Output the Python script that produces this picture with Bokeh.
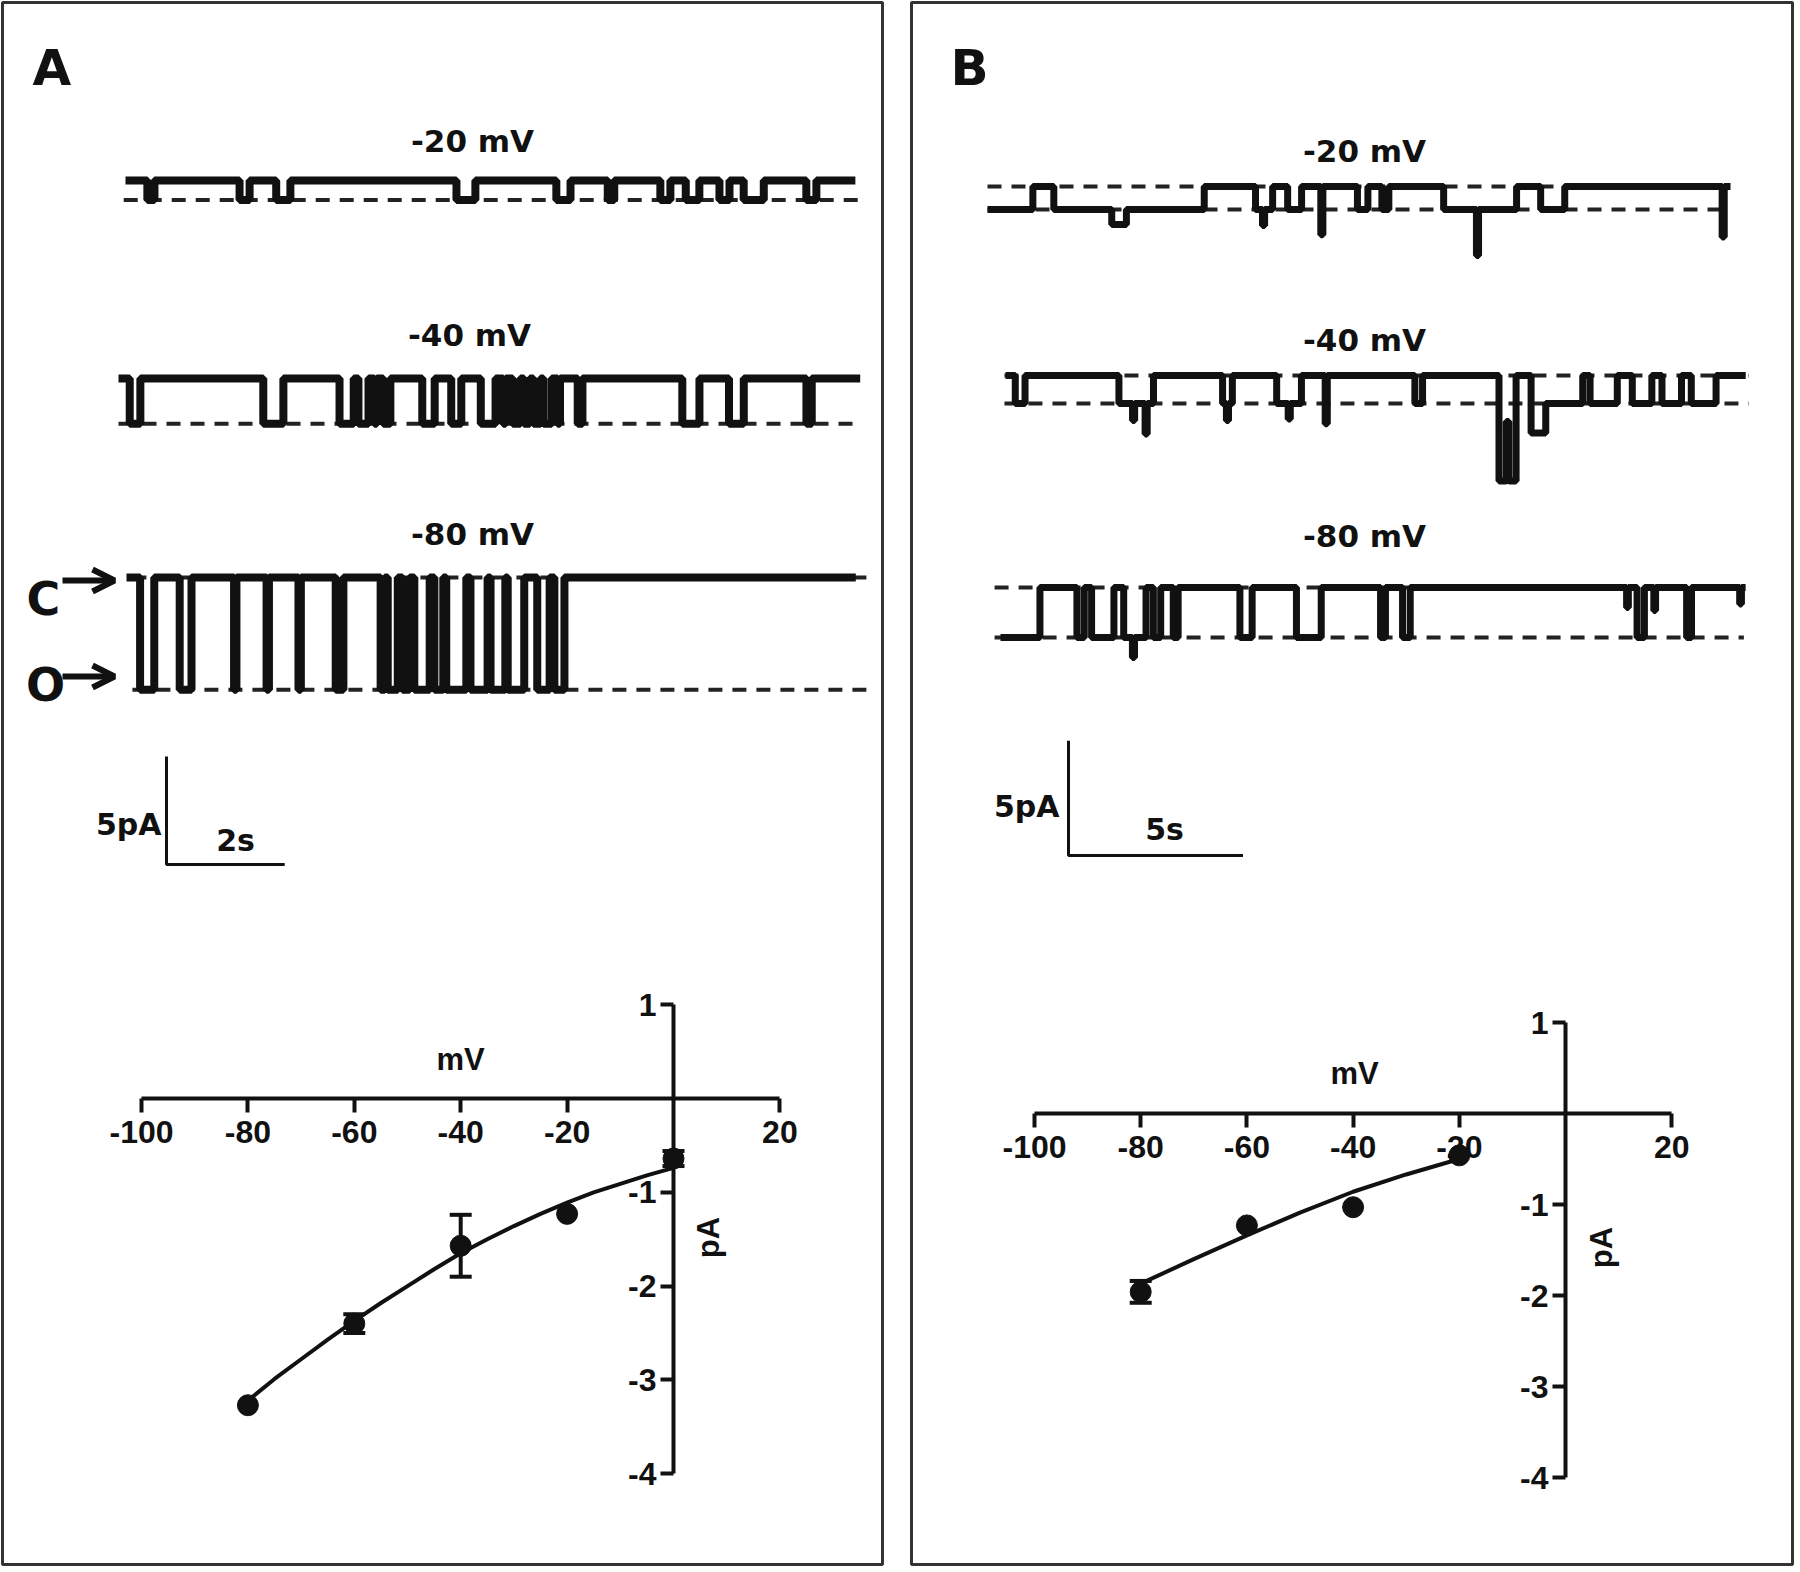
import math
from bokeh.plotting import figure
from bokeh.layouts import row
from bokeh.models import (Range1d, LinearAxis, FixedTicker, Label, Arrow, OpenHead,
                          Whisker, TeeHead, ColumnDataSource)
from bokeh.embed import file_html
from bokeh.resources import INLINE

# ====================== DATA ======================
# Single-channel traces: step functions, segment boundaries (s) and current level (pA,
# relative to the closed level) of each segment.
# ---- Panel A ----
a20_t = [0, 0.37, 0.49, 1.93, 2.10, 2.55, 2.79, 5.60, 5.92, 7.29, 7.53, 8.16, 8.27,
         9.05, 9.22, 9.48, 9.71, 10.05, 10.22, 10.46, 10.80, 11.52, 11.69, 12.35]
a20_i = [0, -0.9, 0, -0.9, 0, -0.9, 0, -0.9, 0, -0.9, 0, -0.9, 0,
         -0.9, 0, -0.9, 0, -0.9, 0, -0.9, 0, -0.9, 0]
a20_levels = [-0.9]

a40_t = [0, 0.19, 0.37, 2.45, 2.79, 3.74, 3.98, 4.06, 4.23, 4.33, 4.37, 4.48, 4.60,
         5.14, 5.35, 5.63, 5.80, 6.13, 6.38, 6.51, 6.55, 6.67, 6.80, 6.86, 6.96,
         7.02, 7.14, 7.19, 7.33, 7.43, 7.47, 7.77, 7.85, 9.54, 9.83, 10.33, 10.58,
         11.64, 11.73, 12.55]
a40_i = [0, -2.1, 0, -2.1, 0, -2.1, 0, -2.1, 0, -2.1, 0, -2.1, 0,
         -2.1, 0, -2.1, 0, -2.1, 0, -2.1, 0, -2.1, 0, -2.1, 0,
         -2.1, 0, -2.1, 0, -2.1, 0, -2.1, 0, -2.1, 0, -2.1, 0,
         -2.1, 0]
a40_levels = [-2.1]

a80_t = [0, 0.23, 0.47, 0.90, 1.10, 1.82, 1.86, 2.37, 2.41, 2.91, 2.95, 3.54, 3.67,
         4.30, 4.37, 4.42, 4.59, 4.67, 4.79, 4.87, 5.13, 5.21, 5.36, 5.41, 5.75,
         5.82, 6.11, 6.16, 6.41, 6.45, 6.73, 6.95, 7.16, 7.24, 7.41, 12.34]
a80_i = [0, -5.2, 0, -5.2, 0, -5.2, 0, -5.2, 0, -5.2, 0, -5.2, 0,
         -5.2, 0, -5.2, 0, -5.2, 0, -5.2, 0, -5.2, 0, -5.2, 0,
         -5.2, 0, -5.2, 0, -5.2, 0, -5.2, 0, -5.2, 0]
a80_levels = [0, -5.2]

# ---- Panel B ----
b20_t = [0, 1.30, 1.90, 3.56, 3.98, 6.21, 7.68, 7.88, 7.94, 8.17, 8.60, 9.00, 9.55,
         9.61, 10.60, 10.90, 11.30, 11.50, 13.07, 14.01, 14.07, 15.16, 15.85, 16.54,
         21.05, 21.11, 21.29]
b20_i = [-1.0, 0, -1.0, -1.65, -1.0, 0, -1.0, -1.7, -1.0, 0, -1.0, 0, -2.1,
         0, -1.0, 0, -1.0, 0, -1.0, -3.0, -1.0, 0, -1.0, 0, -2.2, 0]
b20_levels = [0, -1.0]

b40_t = [0, 0.28, 0.56, 3.25, 3.64, 3.70, 4.00, 4.06, 4.24, 6.22, 6.33, 6.39, 6.50,
         7.77, 8.10, 8.16, 8.48, 9.16, 9.22, 11.73, 11.95, 14.14, 14.35, 14.42,
         14.63, 15.06, 15.48, 16.54, 16.75, 17.53, 17.96, 18.52, 18.81, 19.37,
         19.65, 20.36, 21.21]
b40_i = [0, -1.22, 0, -1.22, -1.96, -1.22, -2.55, -1.22, 0, -1.22, -1.96, -1.22, 0,
         -1.22, -1.9, -1.22, 0, -2.1, 0, -1.22, 0, -4.6, -2.0, -4.6,
         0, -2.5, -1.22, 0, -1.22, 0, -1.22, 0, -1.22, 0, -1.22, 0]
b40_levels = [0, -1.22]

b80_t = [0, 1.13, 2.19, 2.40, 2.61, 3.25, 3.53, 3.78, 3.84, 4.17, 4.38, 4.59, 4.95,
         5.09, 6.86, 7.21, 8.48, 9.19, 10.89, 11.03, 11.52, 11.74, 17.94, 17.99,
         18.24, 18.45, 18.72, 18.77, 19.66, 19.80, 21.18, 21.23, 21.35]
b80_i = [-2.18, 0, -2.18, 0, -2.18, 0, -2.18, -3.05, -2.18, 0, -2.18, 0, -2.18,
         0, -2.18, 0, -2.18, 0, -2.18, 0, -2.18, 0, -0.87, 0,
         -2.18, 0, -1.0, 0, -2.18, 0, -0.72, 0]
b80_levels = [0, -2.18]

trace_labels = ["-20 mV", "-40 mV", "-80 mV"]

# Scale bars (time s, current pA)
sbA = (2, 5)
sbB = (5, 5)
sbA_text = ("5pA", "2s")
sbB_text = ("5pA", "5s")

# I-V relations
ivA_mv = [-80, -60, -40, -20, 0]
ivA_pa = [-3.27, -2.40, -1.57, -1.23, -0.64]
ivA_err = [0.0, 0.10, 0.33, 0.0, 0.08]
fitA_mv = [-80, -75, -70, -65, -60, -55, -50, -45, -40, -35, -30, -25, -20, -15, -10, -5, 0]
fitA_pa = [-3.22, -2.99, -2.78, -2.57, -2.37, -2.18, -2.00, -1.82, -1.65, -1.50,
           -1.36, -1.23, -1.11, -1.00, -0.91, -0.82, -0.74]

ivB_mv = [-80, -60, -40, -20]
ivB_pa = [-1.96, -1.23, -1.03, -0.46]
ivB_err = [0.12, 0.0, 0.0, 0.0]
fitB_mv = [-80, -70, -60, -50, -40, -30, -20]
fitB_pa = [-1.87, -1.60, -1.34, -1.09, -0.86, -0.67, -0.50]

iv_xticks = [-100, -80, -60, -40, -20, 20]
iv_yticks = [-4, -3, -2, -1, 1]
iv_xbounds = (-100, 20)
iv_ybounds = (-4, 1)

# ====================== LAYOUT / STYLE ======================
H, MB = 1566, 2
INK = "#111111"
LFONT = "DejaVu Sans"
AFONT = "Liberation Sans"


def add_text(p, x, y, text, size, font=LFONT, align="left", baseline="middle", angle=0.0):
    p.add_layout(Label(x=x, y=y, text=text, text_font=font, text_font_size=f"{size}px",
                       text_font_style="bold", text_color=INK, text_align=align,
                       text_baseline=baseline, angle=angle))


def build_panel(cfg):
    W = cfg["width"]

    def xr(px0, scale):
        return Range1d((MB - px0) / scale, (W - MB - px0) / scale)

    def yr(py0, scale):
        return Range1d((py0 - (H - MB)) / scale, (py0 - MB) / scale)

    p = figure(width=W, height=H, output_backend="svg", toolbar_location=None,
               x_range=Range1d(MB, W - MB), y_range=Range1d(H - MB, MB),
               x_axis_type=None, y_axis_type=None, min_border=MB,
               outline_line_color="#333333", outline_line_width=3,
               background_fill_color="white", border_fill_color="white")

    add_text(p, cfg["letter_xy"][0], cfg["letter_xy"][1], cfg["letter"], 50)

    # traces
    for k, tr in enumerate(cfg["traces"]):
        xn, yn = f"t{k}", f"i{k}"
        p.extra_x_ranges[xn] = xr(tr["x0"], cfg["pps"])
        p.extra_y_ranges[yn] = yr(tr["y0"], cfg["ppa"])
        d0, d1 = tr["dash"]
        for lev in tr["levels"]:
            p.line([d0, d1], [lev, lev], x_range_name=xn, y_range_name=yn,
                   line_color="#222222", line_width=4, line_dash="14 10")
        t = tr["t"]
        lv = list(tr["i"]) + [tr["i"][-1]]
        p.step(t, lv, mode="after", x_range_name=xn, y_range_name=yn,
               line_color=INK, line_width=cfg["trace_w"])
        lx, ly = tr["label_xy"]
        add_text(p, lx, ly, tr["label"], 31, align="center")

    # scale bar
    p.extra_x_ranges["sbx"] = xr(cfg["sb_origin"][0], cfg["pps"])
    p.extra_y_ranges["sby"] = yr(cfg["sb_origin"][1], cfg["ppa"])
    st, sa = cfg["sb"]
    p.line([0, 0, st], [sa, 0, 0], x_range_name="sbx", y_range_name="sby",
           line_color=INK, line_width=3)
    add_text(p, cfg["sb_a_xy"][0], cfg["sb_a_xy"][1], cfg["sb_text"][0], 30, align="right")
    add_text(p, cfg["sb_t_xy"][0], cfg["sb_t_xy"][1], cfg["sb_text"][1], 30, align="center")

    # I-V plot
    p.extra_x_ranges["mv"] = xr(cfg["mv0"], cfg["pxmv"])
    p.extra_y_ranges["pa"] = yr(cfg["pa0"], cfg["pxpa"])
    ax = LinearAxis(x_range_name="mv", y_range_name="pa", fixed_location=0,
                    bounds=iv_xbounds, ticker=FixedTicker(ticks=iv_xticks, minor_ticks=[]),
                    major_label_overrides={v: str(v) for v in iv_xticks})
    ay = LinearAxis(x_range_name="mv", y_range_name="pa", fixed_location=0,
                    bounds=iv_ybounds, ticker=FixedTicker(ticks=iv_yticks, minor_ticks=[]),
                    major_label_overrides={v: str(v) for v in iv_yticks})
    for a, tout, stand in ((ax, 14, 8), (ay, 13, 4)):
        a.axis_line_width = 4
        a.axis_line_color = INK
        a.major_tick_line_width = 4
        a.major_tick_line_color = INK
        a.major_tick_out = tout
        a.major_tick_in = 0
        a.minor_tick_out = 0
        a.minor_tick_in = 0
        a.major_label_standoff = stand
        a.major_label_text_font = AFONT
        a.major_label_text_font_style = "bold"
        a.major_label_text_font_size = "32px"
        a.major_label_text_color = INK
    p.add_layout(ax, "below")
    p.add_layout(ay, "left")

    p.line(cfg["fit_mv"], cfg["fit_pa"], x_range_name="mv", y_range_name="pa",
           line_color=INK, line_width=4)
    ex, eu, el = [], [], []
    for x, y, e in zip(cfg["iv_mv"], cfg["iv_pa"], cfg["iv_err"]):
        if e > 0:
            ex.append(x)
            eu.append(y + e)
            el.append(y - e)
    if ex:
        src = ColumnDataSource(dict(x=ex, up=eu, lo=el))
        p.add_layout(Whisker(source=src, base="x", upper="up", lower="lo",
                             x_range_name="mv", y_range_name="pa",
                             line_color=INK, line_width=4,
                             upper_head=TeeHead(size=22, line_width=4, line_color=INK),
                             lower_head=TeeHead(size=22, line_width=4, line_color=INK)))
    p.scatter(cfg["iv_mv"], cfg["iv_pa"], x_range_name="mv", y_range_name="pa",
              marker="circle", size=21, fill_color=INK, line_color=INK)

    add_text(p, cfg["mv_xy"][0], cfg["mv_xy"][1], "mV", 31, font=AFONT, align="center")
    add_text(p, cfg["pa_xy"][0], cfg["pa_xy"][1], "pA", 31, font=AFONT, align="center",
             angle=math.pi / 2)

    for txt, (x, y) in cfg.get("state_text", []):
        add_text(p, x, y, txt, 46, align="center")
    for (x0, x1, y) in cfg.get("arrows", []):
        p.add_layout(Arrow(x_start=x0, y_start=y, x_end=x1, y_end=y,
                           line_color=INK, line_width=6,
                           end=OpenHead(size=22, line_width=6, line_color=INK)))
    return p


cfgA = dict(
    width=884, letter="A", letter_xy=(32, 67), trace_w=8,
    pps=59.1, ppa=21.58,
    traces=[
        dict(t=a20_t, i=a20_i, levels=a20_levels, x0=125, y0=180, dash=(-0.03, 12.45),
             label=trace_labels[0], label_xy=(472, 140)),
        dict(t=a40_t, i=a40_i, levels=a40_levels, x0=118, y0=378, dash=(0.0, 12.54),
             label=trace_labels[1], label_xy=(469, 334)),
        dict(t=a80_t, i=a80_i, levels=a80_levels, x0=126, y0=577, dash=(0.10, 12.64),
             label=trace_labels[2], label_xy=(472, 533)),
    ],
    sb=sbA, sb_origin=(166, 864), sb_text=sbA_text, sb_a_xy=(161, 824), sb_t_xy=(235, 840),
    mv0=673, pxmv=5.32, pa0=1098, pxpa=93.8,
    iv_mv=ivA_mv, iv_pa=ivA_pa, iv_err=ivA_err, fit_mv=fitA_mv, fit_pa=fitA_pa,
    mv_xy=(460, 1059), pa_xy=(708, 1237),
    state_text=[("C", (43, 598)), ("O", (45, 684))],
    arrows=[(62, 114, 580), (62, 114, 676)],
)

cfgB = dict(
    width=885, letter="B", letter_xy=(41, 67), trace_w=7,
    pps=34.9, ppa=22.96,
    traces=[
        dict(t=b20_t, i=b20_i, levels=b20_levels, x0=78, y0=186, dash=(0.0, 21.3),
             label=trace_labels[0], label_xy=(455, 150)),
        dict(t=b40_t, i=b40_i, levels=b40_levels, x0=96, y0=375, dash=(-0.03, 21.3),
             label=trace_labels[1], label_xy=(455, 339)),
        dict(t=b80_t, i=b80_i, levels=b80_levels, x0=91, y0=587, dash=(-0.17, 21.3),
             label=trace_labels[2], label_xy=(455, 535)),
    ],
    sb=sbB, sb_origin=(159, 855), sb_text=sbB_text, sb_a_xy=(150, 806), sb_t_xy=(255, 829),
    mv0=656, pxmv=5.31, pa0=1113, pxpa=91.0,
    iv_mv=ivB_mv, iv_pa=ivB_pa, iv_err=ivB_err, fit_mv=fitB_mv, fit_pa=fitB_pa,
    mv_xy=(445, 1073), pa_xy=(692, 1247),
)

pA = build_panel(cfgA)
pB = build_panel(cfgB)
layout = row(pA, pB, spacing=25)

open("out.html", "w").write(file_html(layout, INLINE, title="Single channel recordings"))
